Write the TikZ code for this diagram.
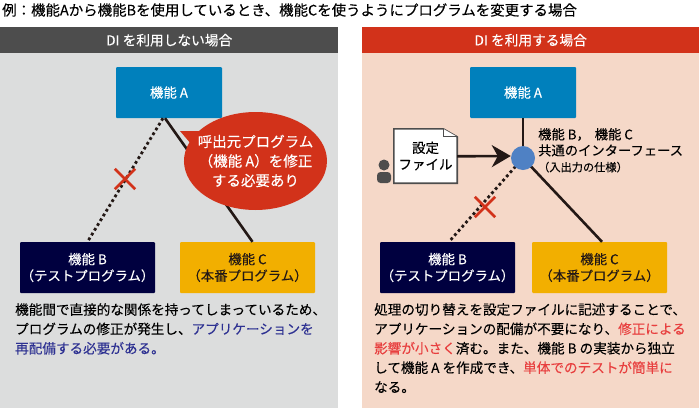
\documentclass[tikz,border=0pt]{standalone}
\usepackage{fontspec}
\setmainfont{Noto Sans CJK JP}[FakeBold=0.12]
\usepackage{xcolor}
\usetikzlibrary{arrows.meta,shapes.callouts}
\definecolor{headgray}{HTML}{4D4D4D}
\definecolor{panelgray}{HTML}{DCDDDD}
\definecolor{headred}{HTML}{D2321A}
\definecolor{panelpink}{HTML}{F5D8C8}
\definecolor{funcblue}{HTML}{0080BC}
\definecolor{funcnavy}{HTML}{00003F}
\definecolor{funcyellow}{HTML}{F2AF00}
\definecolor{dotblue}{HTML}{4F81C4}
\definecolor{darkline}{HTML}{231815}
\definecolor{noteblue}{HTML}{2E3192}
\definecolor{notered}{HTML}{E83F3F}
\newcommand{\bl}[1]{\textcolor{noteblue}{#1}}
\newcommand{\rd}[1]{\textcolor{notered}{#1}}
\begin{document}
\begin{tikzpicture}[
  x=1pt, y=-1pt,
  panel/.style={minimum width=338pt, minimum height=355pt, inner sep=0pt, anchor=north west},
  head/.style={minimum width=338pt, minimum height=26pt, inner sep=0pt, anchor=north west, text=white, font=\fontsize{13.7pt}{15pt}\selectfont},
  func/.style={rounded corners=1pt, minimum width=135pt, minimum height=51pt, inner sep=0pt, align=center, text=white, font=\fontsize{13.4pt}{16.5pt}\selectfont},
  funca/.style={func, minimum width=106pt, fill=funcblue},
  funcb/.style={func, fill=funcnavy},
  funcc/.style={func, fill=funcyellow, text=darkline},
  solidln/.style={draw=darkline, line width=2.6pt},
  dotln/.style={draw=darkline, line width=2.8pt, dash pattern=on 2.8pt off 2.8pt},
  crossln/.style={draw=headred, line width=2.6pt},
  crossbox/.style={inner sep=0pt, minimum size=20pt},
  body/.style={inner sep=0pt, anchor=north west, align=left, text=black, font=\fontsize{13.6pt}{19.4pt}\selectfont},
  ]
\useasboundingbox (0,0) rectangle (699,410);
\fill[white] (0,0) rectangle (699,410);
\node[inner sep=0pt, anchor=west, font=\fontsize{14.45pt}{16pt}\selectfont] (title) at (2,10) {例：機能Aから機能Bを使用しているとき、機能Cを使うようにプログラムを変更する場合};
% left side
\node[panel, fill=panelgray] (leftpanel) at (0,53) {};
\node[head, fill=headgray] (lefthead) at (0,27) {DI を利用しない場合};
\node[funca] (lefta) at (169,92.5) {機能 A};
\node[funcb] (leftb) at (87.5,267.5) {機能 B\\（テストプログラム）};
\node[funcc] (leftc) at (247.5,267.5) {機能 C\\（本番プログラム）};
\draw[dotln] ([xshift=-6pt]lefta.south) -- (leftb.north);
\draw[solidln] ([xshift=-4pt]lefta.south) -- ([xshift=5pt]leftc.north);
\node[crossbox] (leftx) at (125,179) {};
\draw[crossln] (leftx.north west) -- (leftx.south east);
\draw[crossln] (leftx.north east) -- (leftx.south west);
\node[ellipse callout, callout absolute pointer={(180,131)}, fill=headred, minimum width=143pt, minimum height=98pt, inner sep=0pt] (bubble) at (255.5,161) {};
\node[text=white, inner sep=0pt, align=center, font=\fontsize{14.5pt}{19.5pt}\selectfont] (bubbletext) at (bubble.center) {呼出元プログラム\\（機能 A）を修正\\する必要あり};
\node[body] (leftnote) at (15,303) {機能間で直接的な関係を持ってしまっているため、\\プログラムの修正が発生し、\bl{アプリケーションを}\\\bl{再配備する必要がある。}};
% right side
\node[panel, fill=panelpink, minimum width=337pt] (rightpanel) at (362,53) {};
\node[head, fill=headred, minimum width=337pt] (righthead) at (362,27) {DI を利用する場合};
\node[funca] (righta) at (523,92.5) {機能 A};
\node[funcb] (rightb) at (447.5,267.5) {機能 B\\（テストプログラム）};
\node[funcc] (rightc) at (599.5,267.5) {機能 C\\（本番プログラム）};
\coordinate (iface) at (523,158);
\draw[solidln] (righta.south) -- (iface);
\draw[solidln] (iface) -- ([xshift=2.5pt]rightc.north);
\draw[dotln] (iface) -- ([xshift=1.5pt]rightb.north);
\node[circle, fill=dotblue, minimum size=24pt, inner sep=0pt] (ifacedot) at (iface) {};
\node[crossbox] (rightx) at (485,207) {};
\draw[crossln] (rightx.north west) -- (rightx.south east);
\draw[crossln] (rightx.north east) -- (rightx.south west);
\node[inner sep=0pt, anchor=north west, align=left, font=\fontsize{13.3pt}{16pt}\selectfont] (ifacetext) at (538,128) {機能 B，\hspace{5pt}機能 C\\共通のインターフェース\\{\fontsize{11.2pt}{14pt}\selectfont（入出力の仕様）}};
\node[minimum width=63pt, minimum height=54pt, inner sep=0pt] (config) at (425.5,156) {};
\filldraw[fill=white, draw=headgray, line width=1.6pt] (config.south west) -- (config.north west) -- ([xshift=-14pt]config.north east) -- ([yshift=-8pt]config.north east) -- (config.south east) -- cycle;
\draw[fill=white, draw=headgray, line width=0.9pt] ([xshift=-14pt]config.north east) -- ([xshift=-14pt,yshift=-8pt]config.north east) -- ([yshift=-8pt]config.north east);
\node[align=center, inner sep=0pt, font=\fontsize{13.5pt}{16.5pt}\selectfont] (configtext) at (config) {設定\\ファイル};
\draw[solidln, -{Stealth[length=19pt, width=22pt, inset=6pt]}] ([yshift=-0.3pt]config.east) -- (ifacedot.west |- config.east);
\node[circle, fill=headgray, minimum size=11pt, inner sep=0pt] (personhead) at (384,165) {};
\fill[headgray, rounded corners=3.5pt] (377,183) -- (377,172) -- (391,172) -- (391,183) -- cycle;
\node[body] (rightnote) at (374,303) {処理の切り替えを設定ファイルに記述することで、\\アプリケーションの配備が不要になり、\rd{修正による}\\\rd{影響が小さく}済む。また、機能 B の実装から独立\\して機能 A を作成でき、\rd{単体でのテストが簡単に}\\なる。};
\end{tikzpicture}
\end{document}
